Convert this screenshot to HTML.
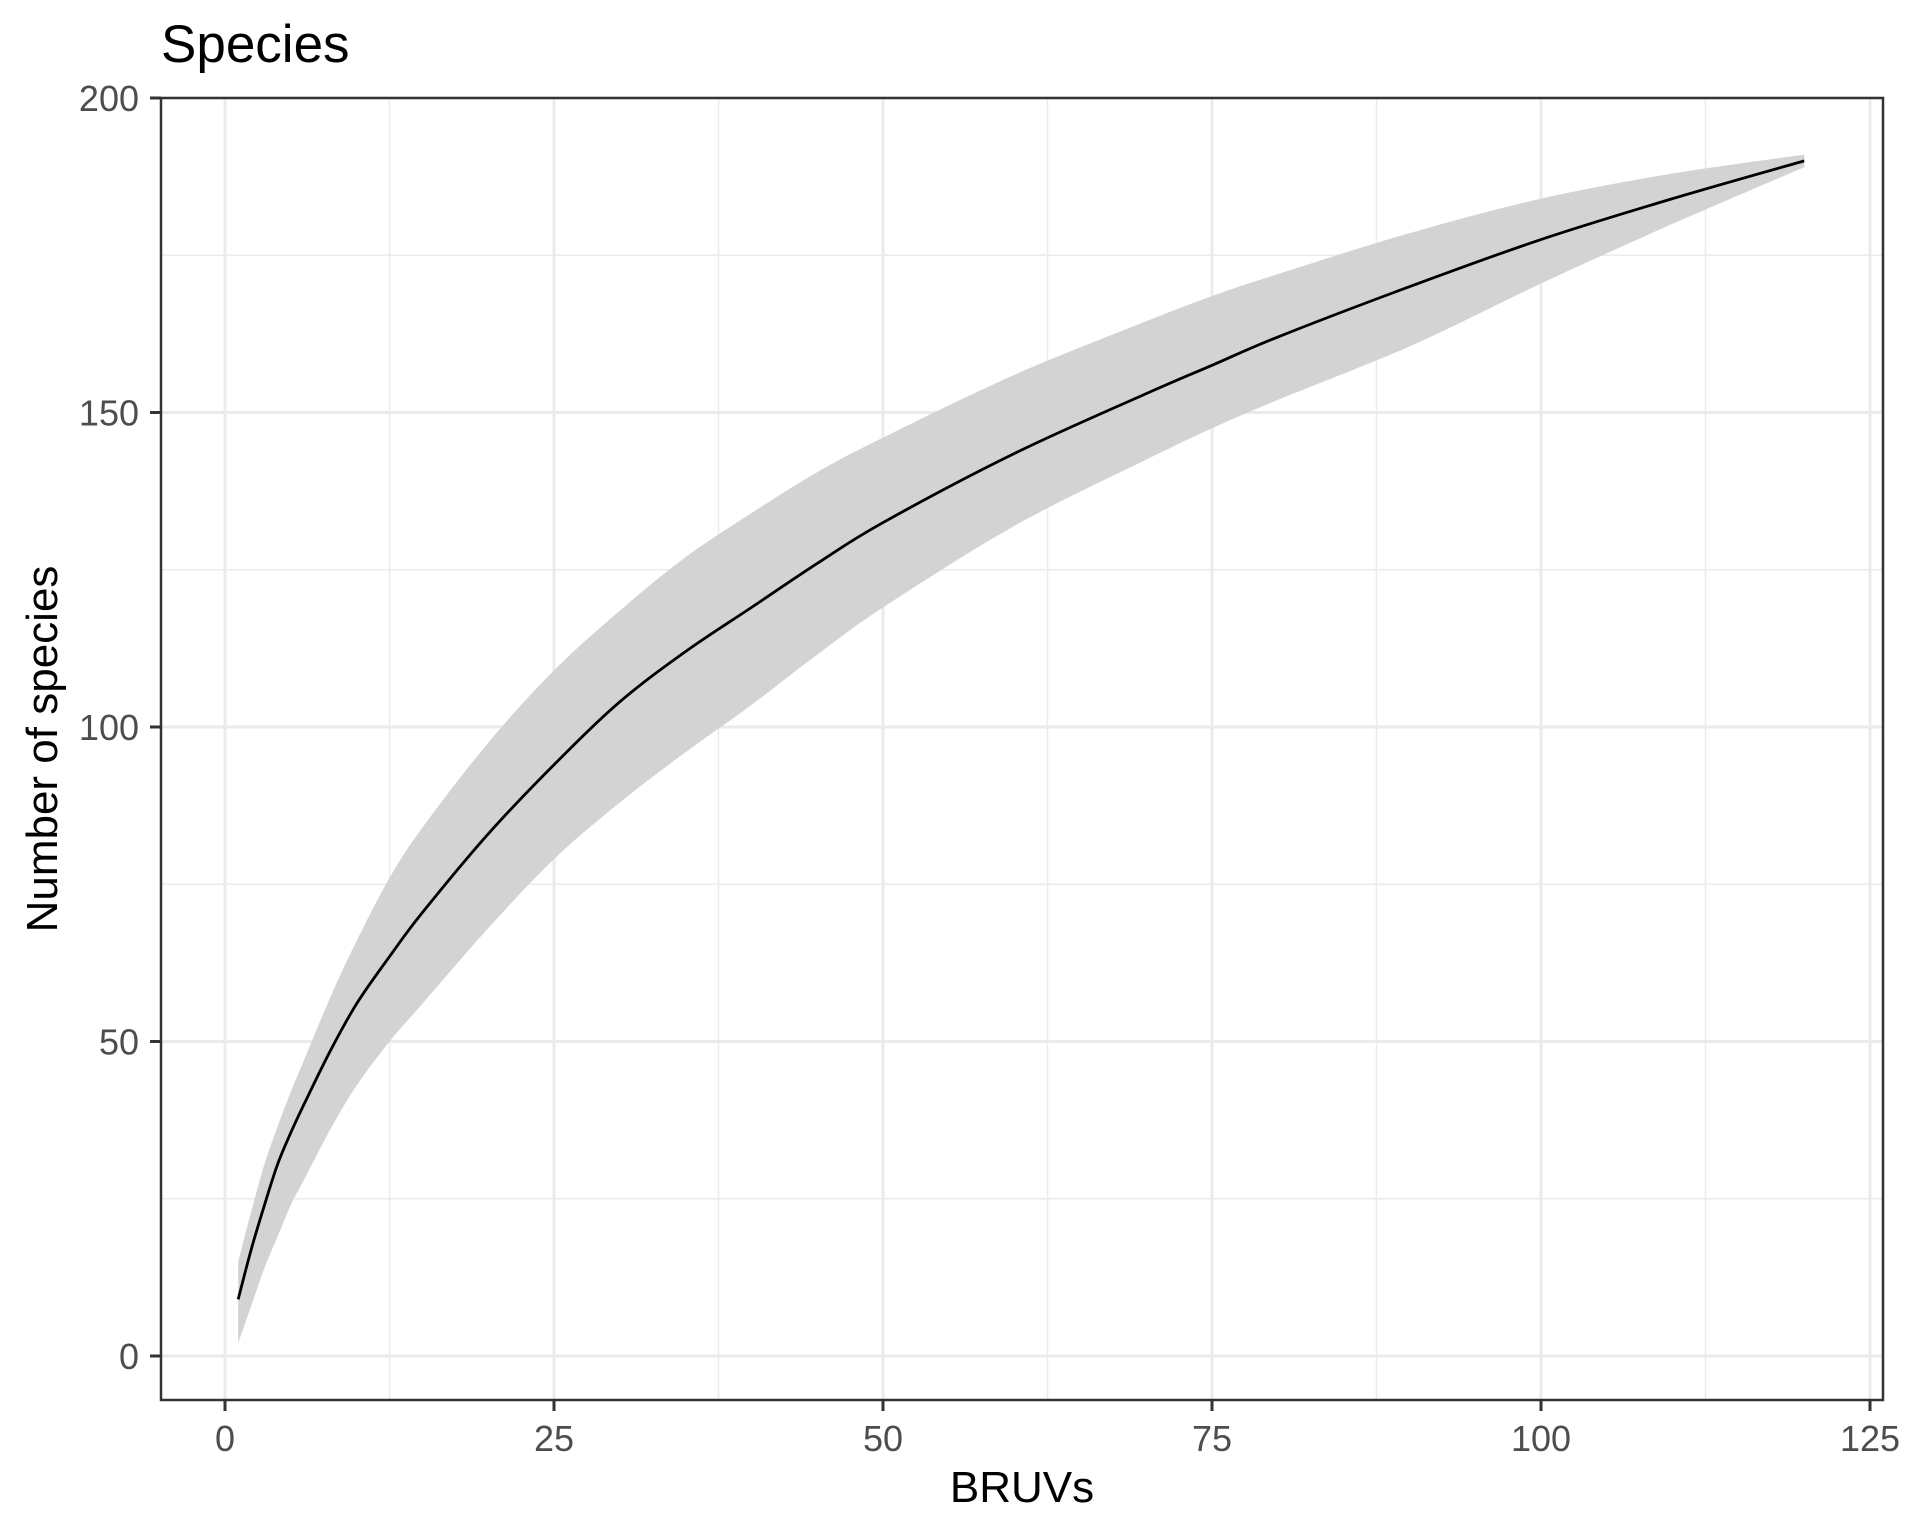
<!DOCTYPE html>
<html><head><meta charset="utf-8"><style>
html,body{margin:0;padding:0;background:#fff;}
svg{display:block;font-family:"Liberation Sans",Arial,sans-serif;}
</style></head><body>
<svg id="chart" width="1906" height="1534" viewBox="0 0 1906 1534">
<rect x="0" y="0" width="1906" height="1534" fill="#fff"/>
<text x="161" y="62" font-size="53" fill="#000">Species</text>
<g id="grid"></g>
<g id="band"></g>
<g id="line"></g>
<rect x="161" y="98" width="1722" height="1302" fill="none" stroke="#333" stroke-width="2.5"/>
<g id="axes"></g>
<text x="1022" y="1502" font-size="44" text-anchor="middle" fill="#000">BRUVs</text>
<text transform="translate(57,749) rotate(-90)" font-size="44" text-anchor="middle" fill="#000">Number of species</text>
</svg>
<script>
const xs    = [1,2,3,4,5,6,8,10,12.5,15,20,25,30,35,40,45,50,60,70,75,80,90,100,110,120];
const mean  = [9,17,24,30.5,35.5,40,48.5,56,63.5,70.5,83,94,104,112,119,126,132.5,143.5,153,157.5,162,170,177.5,184,190];
const upper = [15,23,30.5,36.5,42,47,57,66,76,84,97.5,109,118.5,127,134,140.5,146,156,164.5,168.5,172,178.5,184,188,191];
const lower = [2,8,14,19,24,28,36,43,50,56,68,79,88,96,103.5,111.5,119,132,142.5,147.5,152,160.5,170.5,180,189];
const xTicks = [0,25,50,75,100,125];
const yTicks = [0,50,100,150,200];
const xMinor = [12.5,37.5,62.5,87.5,112.5];
const yMinor = [25,75,125,175];

const X = v => 225 + v * 13.16;
const Y = v => 1356 - v * 6.29;
const NS = 'http://www.w3.org/2000/svg';
function mk(tag, attrs, parent){const e=document.createElementNS(NS,tag);for(const k in attrs)e.setAttribute(k,attrs[k]);parent.appendChild(e);return e;}
function smooth(pts, start){
  let d=(start?'M':'L')+pts[0][0]+','+pts[0][1];
  for(let i=0;i<pts.length-1;i++){
    const p0=pts[Math.max(0,i-1)],p1=pts[i],p2=pts[i+1],p3=pts[Math.min(pts.length-1,i+2)];
    const c1x=p1[0]+(p2[0]-p0[0])/6,c1y=p1[1]+(p2[1]-p0[1])/6;
    const c2x=p2[0]-(p3[0]-p1[0])/6,c2y=p2[1]-(p3[1]-p1[1])/6;
    d+='C'+c1x+','+c1y+' '+c2x+','+c2y+' '+p2[0]+','+p2[1];
  }
  return d;
}
const grid=document.getElementById('grid'), axes=document.getElementById('axes');
xMinor.forEach(v=>{const l=mk('line',{x1:X(v),x2:X(v),y1:98,y2:1400,stroke:'#ebebeb','stroke-width':1.5},grid);

});
yMinor.forEach(v=>{const l=mk('line',{x1:161,x2:1883,y1:Y(v),y2:Y(v),stroke:'#ebebeb','stroke-width':1.5},grid);

});
xTicks.forEach(v=>{const l=mk('line',{x1:X(v),x2:X(v),y1:98,y2:1400,stroke:'#ebebeb','stroke-width':3},grid);


const t=mk('line',{x1:X(v),x2:X(v),y1:1400,y2:1411,stroke:'#333','stroke-width':3},axes);


const tx=mk('text',{x:X(v),y:1451,'font-size':36,'text-anchor':'middle',fill:'#4d4d4d'},axes);tx.textContent=v;

});
yTicks.forEach(v=>{const l=mk('line',{x1:161,x2:1883,y1:Y(v),y2:Y(v),stroke:'#ebebeb','stroke-width':3},grid);


const t=mk('line',{x1:150,x2:161,y1:Y(v),y2:Y(v),stroke:'#333','stroke-width':3},axes);


const tx=mk('text',{x:139,y:Y(v)+13,'font-size':36,'text-anchor':'end',fill:'#4d4d4d'},axes);tx.textContent=v;

});
const up=xs.map((x,i)=>[X(x),Y(upper[i])]);
const lo=xs.map((x,i)=>[X(x),Y(lower[i])]).reverse();
const d=smooth(up,true)+smooth(lo,false)+'Z';
const band=mk('path',{d:d,fill:'#d3d3d3'},document.getElementById('band'));


const dl=smooth(xs.map((x,i)=>[X(x),Y(mean[i])]),true);
const ln=mk('path',{d:dl,fill:'none',stroke:'#000','stroke-width':2.8,'stroke-linejoin':'round'},document.getElementById('line'));


</script>
</body></html>
